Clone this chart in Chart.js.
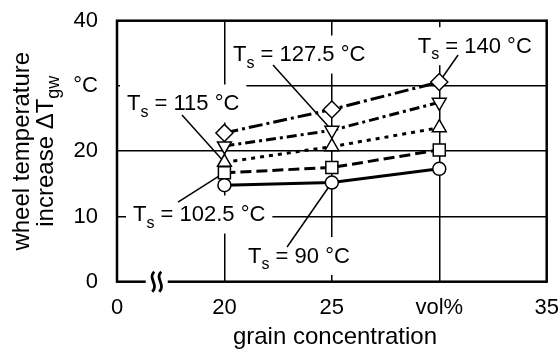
<!DOCTYPE html>
<html>
<head>
<meta charset="utf-8">
<script src="https://cdn.jsdelivr.net/npm/chart.js@4.4.0/dist/chart.umd.min.js"></script>
<style>
  html, body { margin: 0; padding: 0; background: #fff; }
  #wrap { width: 558px; height: 350px; }
</style>
</head>
<body>
<div id="wrap"><canvas id="chart" width="558" height="350"></canvas></div>
<script>
// x axis is broken: 0 | 20 | 25 | 30 | 35 sit at equal steps
const xTickLabels = ['0', '20', '25', 'vol%', '35'];
const yTickLabels = ['0', '10', '20', '°C', '40'];
const grainIndex = [1, 2, 3];          // 20, 25, 30 vol%

const ts90 = [14.8, 15.2, 17.3];
const ts102 = [16.7, 17.5, 20.2];
const ts115 = [18.3, 20.7, 23.6];
const ts127 = [20.8, 23.2, 27.5];
const ts140 = [22.8, 26.4, 30.6];

const FONT = '"Liberation Sans", Arial, sans-serif';

// callout labels, placed in data space (x index, y value)
const callouts = [
    { series: 0, point: 1, text: ' = 90 °C',    at: [1.22, 4.09],  from: [1.583, 5.32] },
    { series: 1, point: 0, text: ' = 102.5 °C', at: [0.149, 10.45], from: [0.568, 12.21] },
    { series: 2, point: 0, text: ' = 115 °C',   at: [0.093, 27.46], from: [0.605, 25.55] },
    { series: 3, point: 1, text: ' = 127.5 °C', at: [1.08, 34.97],  from: [1.452, 33.21] },
    { series: 4, point: 2, text: ' = 140 °C',   at: [2.80, 36.25],  from: [3.175, 34.74] }
];

const LABEL_SIZE = 22;

function toPoints(vals) {
    return grainIndex.map((x, i) => ({ x: x, y: vals[i] }));
}

function series(vals, style, radius, dash, rotation) {
    return {
        data: toPoints(vals),
        borderColor: '#000',
        borderWidth: 3,
        borderDash: dash,
        pointStyle: style,
        pointRotation: rotation || 0,
        pointRadius: radius,
        pointHoverRadius: radius,
        pointBackgroundColor: '#fff',
        pointBorderColor: '#000',
        pointBorderWidth: 1.5,
        tension: 0
    };
}

// draws "T" + subscript + rest, returns total width
function subText(ctx, x, y, main, sub, rest, size, measureOnly) {
    ctx.font = size + 'px ' + FONT;
    let w = ctx.measureText(main).width;
    if (!measureOnly) ctx.fillText(main, x, y);
    const subSize = Math.round(size * 0.73);
    ctx.font = subSize + 'px ' + FONT;
    if (!measureOnly) ctx.fillText(sub, x + w, y + size * 0.28);
    w += ctx.measureText(sub).width;
    ctx.font = size + 'px ' + FONT;
    if (!measureOnly) ctx.fillText(rest, x + w, y);
    w += ctx.measureText(rest).width;
    return w;
}

function noPad(s) {
    s.paddingLeft = 0; s.paddingRight = 0;
    s.paddingTop = 0; s.paddingBottom = 0;
}

const decorations = {
    id: 'decorations',
    beforeDatasetsDraw(chart) {
        const ctx = chart.ctx;
        const xs = chart.scales.x, ys = chart.scales.y;
        ctx.save();
        callouts.forEach(c => {
            const x = xs.getPixelForValue(c.at[0]);
            const cy = ys.getPixelForValue(c.at[1]);
            const w = subText(ctx, 0, 0, 'T', 's', c.text, LABEL_SIZE, true);
            // white box hides the grid behind the label
            ctx.fillStyle = '#fff';
            ctx.fillRect(x - 7, cy - 18, w + 14, 38);
            // leader line to the point
            const pt = chart.getDatasetMeta(c.series).data[c.point];
            ctx.strokeStyle = '#000';
            ctx.lineWidth = 1.5;
            ctx.beginPath();
            ctx.moveTo(xs.getPixelForValue(c.from[0]), ys.getPixelForValue(c.from[1]));
            ctx.lineTo(pt.x, pt.y);
            ctx.stroke();
        });
        ctx.restore();
    },
    afterDatasetsDraw(chart) {
        const ctx = chart.ctx;
        const a = chart.chartArea;
        const xs = chart.scales.x, ys = chart.scales.y;
        ctx.save();

        // frame
        ctx.strokeStyle = '#000';
        ctx.lineWidth = 2.5;
        ctx.strokeRect(a.left, a.top, a.right - a.left, a.bottom - a.top);

        // axis break between 0 and 20
        const bx = xs.getPixelForValue(0.37);
        ctx.fillStyle = '#fff';
        ctx.fillRect(bx - 11, a.bottom - 3, 22, 6);
        ctx.lineWidth = 2.8;
        [-3.5, 3.5].forEach(dx => {
            const cx = bx + dx;
            ctx.beginPath();
            ctx.moveTo(cx + 1, a.bottom - 10);
            ctx.bezierCurveTo(cx - 6, a.bottom - 4, cx + 6, a.bottom + 3, cx - 1, a.bottom + 10);
            ctx.stroke();
        });

        // callout texts
        ctx.fillStyle = '#000';
        ctx.textBaseline = 'alphabetic';
        ctx.textAlign = 'left';
        callouts.forEach(c => {
            const x = xs.getPixelForValue(c.at[0]);
            const cy = ys.getPixelForValue(c.at[1]);
            subText(ctx, x, cy + LABEL_SIZE * 0.358, 'T', 's', c.text, LABEL_SIZE);
        });

        // axis titles
        ctx.font = '24px ' + FONT;
        ctx.textAlign = 'center';
        ctx.fillText('grain concentration', 335, 344);

        const midY = (a.top + a.bottom) / 2;
        ctx.save();
        ctx.translate(29, midY);
        ctx.rotate(-Math.PI / 2);
        ctx.fillText('wheel temperature', 0, 0);
        ctx.restore();

        ctx.save();
        ctx.translate(52.5, midY);
        ctx.rotate(-Math.PI / 2);
        ctx.textAlign = 'left';
        const w2 = subText(ctx, 0, 0, 'increase \u0394T', 'gw', '', 24, true);
        subText(ctx, -w2 / 2, 0, 'increase \u0394T', 'gw', '', 24);
        ctx.restore();

        ctx.restore();
    }
};

new Chart(document.getElementById('chart'), {
    type: 'line',
    data: {
        datasets: [
            series(ts90, 'circle', 6.5, []),
            series(ts102, 'rect', 8.5, [11, 5]),
            series(ts115, 'triangle', 8, [4, 5]),
            series(ts127, 'triangle', 8, [10, 4, 3, 4], 180),
            series(ts140, 'rectRot', 8.5, [14, 4, 3, 4])
        ]
    },
    options: {
        responsive: false,
        animation: false,
        devicePixelRatio: 1,
        layout: { padding: { top: 20.7, right: 11.3, left: 0, bottom: 0 } },
        plugins: { legend: { display: false }, tooltip: { enabled: false } },
        scales: {
            x: {
                type: 'linear',
                min: 0, max: 4,
                afterFit: s => { s.height = 68.3; noPad(s); },
                ticks: {
                    stepSize: 1,
                    padding: 13,
                    color: '#000',
                    font: { family: FONT, size: 22 },
                    callback: v => xTickLabels[v]
                },
                grid: {
                    drawTicks: false,
                    lineWidth: 1.5,
                    color: c => (c.tick.value === 0 || c.tick.value === 4) ? 'rgba(0,0,0,0)' : '#000'
                },
                border: { display: false }
            },
            y: {
                min: 0, max: 40,
                afterFit: s => { s.width = 117; noPad(s); },
                ticks: {
                    stepSize: 10,
                    padding: 19,
                    color: '#000',
                    font: { family: FONT, size: 22 },
                    callback: v => yTickLabels[v / 10]
                },
                grid: {
                    drawTicks: false,
                    lineWidth: 1.5,
                    color: c => (c.tick.value === 0 || c.tick.value === 40) ? 'rgba(0,0,0,0)' : '#000'
                },
                border: { display: false }
            }
        }
    },
    plugins: [decorations]
});
</script>
</body>
</html>
